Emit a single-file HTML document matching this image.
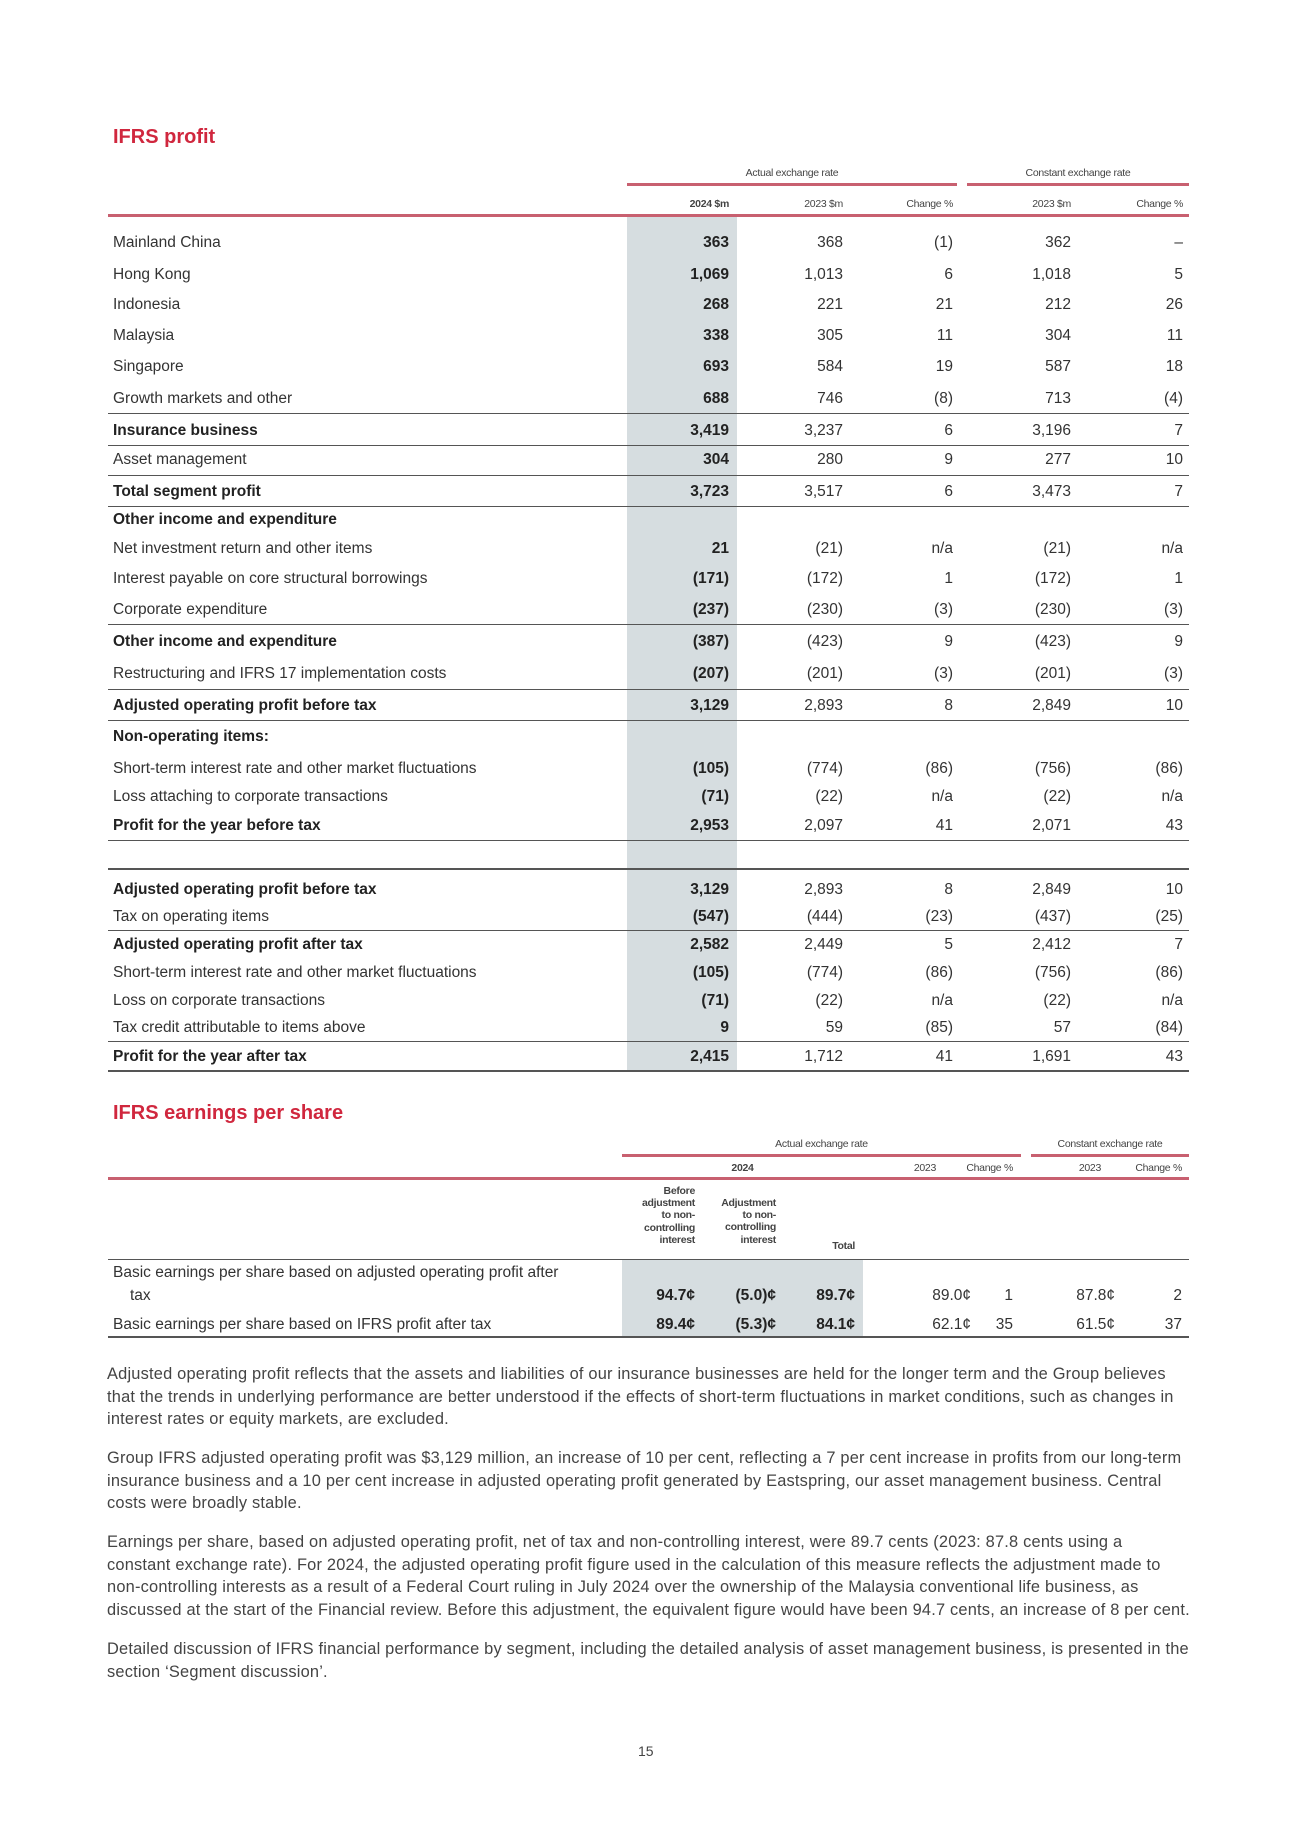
<!DOCTYPE html>
<html><head><meta charset="utf-8"><style>
body{margin:0;background:#fff;}
#p{position:relative;width:1300px;height:1839px;background:#fff;font-family:"Liberation Sans",sans-serif;color:#333;overflow:hidden}
.a{position:absolute;white-space:nowrap}
.h{color:#d0273e;font-weight:bold;font-size:20px}
.r{position:absolute;left:0;width:1300px;height:20px;line-height:20px;font-size:15.5px}
.r span{position:absolute;white-space:nowrap}
.l{left:113px}
.r .c1{right:571px;font-weight:bold;color:#222}
.r .c2{right:457px}.r .c3{right:347px}.r .c4{right:229px}.r .c5{right:117px}
.b{font-weight:bold;color:#222}
.ln{position:absolute;height:1px;background:#555}
.rd{position:absolute;height:3px;background:#c86070}
.sm{font-size:10.5px;color:#444;letter-spacing:-0.3px}
.pp{position:absolute;left:107px;font-size:16.4px;line-height:22.7px;color:#444;white-space:nowrap;letter-spacing:0.2px}
</style></head><body><div id="p">
<div class="a h" style="left:113px;top:126px">IFRS profit</div>
<div style="position:absolute;left:627px;top:217px;width:110px;height:855px;background:#d6dde0"></div>
<div class="a sm" style="left:627px;width:330px;text-align:center;top:167px">Actual exchange rate</div>
<div class="a sm" style="left:967px;width:222px;text-align:center;top:167px">Constant exchange rate</div>
<div class="rd" style="left:627px;width:330px;top:183px"></div>
<div class="rd" style="left:967px;width:222px;top:183px"></div>
<div class="a sm b" style="right:571px;top:198px">2024 $m</div>
<div class="a sm" style="right:457px;top:198px">2023 $m</div>
<div class="a sm" style="right:347px;top:198px">Change %</div>
<div class="a sm" style="right:229px;top:198px">2023 $m</div>
<div class="a sm" style="right:117px;top:198px">Change %</div>
<div class="rd" style="left:108px;width:1081px;top:214px"></div>

<div class="r" style="top:233px"><span class="l">Mainland China</span><span class="c1">363</span><span class="c2">368</span><span class="c3">(1)</span><span class="c4">362</span><span class="c5">–</span></div>
<div class="r" style="top:265px"><span class="l">Hong Kong</span><span class="c1">1,069</span><span class="c2">1,013</span><span class="c3">6</span><span class="c4">1,018</span><span class="c5">5</span></div>
<div class="r" style="top:295px"><span class="l">Indonesia</span><span class="c1">268</span><span class="c2">221</span><span class="c3">21</span><span class="c4">212</span><span class="c5">26</span></div>
<div class="r" style="top:326px"><span class="l">Malaysia</span><span class="c1">338</span><span class="c2">305</span><span class="c3">11</span><span class="c4">304</span><span class="c5">11</span></div>
<div class="r" style="top:357px"><span class="l">Singapore</span><span class="c1">693</span><span class="c2">584</span><span class="c3">19</span><span class="c4">587</span><span class="c5">18</span></div>
<div class="r" style="top:389px"><span class="l">Growth markets and other</span><span class="c1">688</span><span class="c2">746</span><span class="c3">(8)</span><span class="c4">713</span><span class="c5">(4)</span></div>
<div class="ln" style="left:108px;width:1081px;top:413px"></div>
<div class="r" style="top:421px"><span class="l b">Insurance business</span><span class="c1">3,419</span><span class="c2">3,237</span><span class="c3">6</span><span class="c4">3,196</span><span class="c5">7</span></div>
<div class="ln" style="left:108px;width:1081px;top:445px"></div>
<div class="r" style="top:450px"><span class="l">Asset management</span><span class="c1">304</span><span class="c2">280</span><span class="c3">9</span><span class="c4">277</span><span class="c5">10</span></div>
<div class="ln" style="left:108px;width:1081px;top:475px"></div>
<div class="r" style="top:482px"><span class="l b">Total segment profit</span><span class="c1">3,723</span><span class="c2">3,517</span><span class="c3">6</span><span class="c4">3,473</span><span class="c5">7</span></div>
<div class="ln" style="left:108px;width:1081px;top:506px"></div>
<div class="r" style="top:510px"><span class="l b">Other income and expenditure</span></div>
<div class="r" style="top:539px"><span class="l">Net investment return and other items</span><span class="c1">21</span><span class="c2">(21)</span><span class="c3">n/a</span><span class="c4">(21)</span><span class="c5">n/a</span></div>
<div class="r" style="top:569px"><span class="l">Interest payable on core structural borrowings</span><span class="c1">(171)</span><span class="c2">(172)</span><span class="c3">1</span><span class="c4">(172)</span><span class="c5">1</span></div>
<div class="r" style="top:600px"><span class="l">Corporate expenditure</span><span class="c1">(237)</span><span class="c2">(230)</span><span class="c3">(3)</span><span class="c4">(230)</span><span class="c5">(3)</span></div>
<div class="ln" style="left:108px;width:1081px;top:624px"></div>
<div class="r" style="top:632px"><span class="l b">Other income and expenditure</span><span class="c1">(387)</span><span class="c2">(423)</span><span class="c3">9</span><span class="c4">(423)</span><span class="c5">9</span></div>
<div class="r" style="top:664px"><span class="l">Restructuring and IFRS 17 implementation costs</span><span class="c1">(207)</span><span class="c2">(201)</span><span class="c3">(3)</span><span class="c4">(201)</span><span class="c5">(3)</span></div>
<div class="ln" style="left:108px;width:1081px;top:689px"></div>
<div class="r" style="top:696px"><span class="l b">Adjusted operating profit before tax</span><span class="c1">3,129</span><span class="c2">2,893</span><span class="c3">8</span><span class="c4">2,849</span><span class="c5">10</span></div>
<div class="ln" style="left:108px;width:1081px;top:720px"></div>
<div class="r" style="top:727px"><span class="l b">Non-operating items:</span></div>
<div class="r" style="top:759px"><span class="l">Short-term interest rate and other market fluctuations</span><span class="c1">(105)</span><span class="c2">(774)</span><span class="c3">(86)</span><span class="c4">(756)</span><span class="c5">(86)</span></div>
<div class="r" style="top:787px"><span class="l">Loss attaching to corporate transactions</span><span class="c1">(71)</span><span class="c2">(22)</span><span class="c3">n/a</span><span class="c4">(22)</span><span class="c5">n/a</span></div>
<div class="r" style="top:816px"><span class="l b">Profit for the year before tax</span><span class="c1">2,953</span><span class="c2">2,097</span><span class="c3">41</span><span class="c4">2,071</span><span class="c5">43</span></div>
<div class="ln" style="left:108px;width:1081px;top:840px"></div>
<div class="ln" style="left:108px;width:1081px;top:868px;height:2px"></div>
<div class="r" style="top:880px"><span class="l b">Adjusted operating profit before tax</span><span class="c1">3,129</span><span class="c2">2,893</span><span class="c3">8</span><span class="c4">2,849</span><span class="c5">10</span></div>
<div class="r" style="top:907px"><span class="l">Tax on operating items</span><span class="c1">(547)</span><span class="c2">(444)</span><span class="c3">(23)</span><span class="c4">(437)</span><span class="c5">(25)</span></div>
<div class="ln" style="left:108px;width:1081px;top:930px"></div>
<div class="r" style="top:935px"><span class="l b">Adjusted operating profit after tax</span><span class="c1">2,582</span><span class="c2">2,449</span><span class="c3">5</span><span class="c4">2,412</span><span class="c5">7</span></div>
<div class="r" style="top:963px"><span class="l">Short-term interest rate and other market fluctuations</span><span class="c1">(105)</span><span class="c2">(774)</span><span class="c3">(86)</span><span class="c4">(756)</span><span class="c5">(86)</span></div>
<div class="r" style="top:991px"><span class="l">Loss on corporate transactions</span><span class="c1">(71)</span><span class="c2">(22)</span><span class="c3">n/a</span><span class="c4">(22)</span><span class="c5">n/a</span></div>
<div class="r" style="top:1018px"><span class="l">Tax credit attributable to items above</span><span class="c1">9</span><span class="c2">59</span><span class="c3">(85)</span><span class="c4">57</span><span class="c5">(84)</span></div>
<div class="ln" style="left:108px;width:1081px;top:1041px"></div>
<div class="r" style="top:1047px"><span class="l b">Profit for the year after tax</span><span class="c1">2,415</span><span class="c2">1,712</span><span class="c3">41</span><span class="c4">1,691</span><span class="c5">43</span></div>
<div class="ln" style="left:108px;width:1081px;top:1070px;height:2px"></div>

<div class="a h" style="left:113px;top:1102px">IFRS earnings per share</div>
<div style="position:absolute;left:622px;top:1260px;width:241px;height:77px;background:#d6dde0"></div>
<div class="a sm" style="left:622px;width:399px;text-align:center;top:1138px">Actual exchange rate</div>
<div class="a sm" style="left:1031px;width:158px;text-align:center;top:1138px">Constant exchange rate</div>
<div class="rd" style="left:622px;width:399px;top:1154px"></div>
<div class="rd" style="left:1031px;width:158px;top:1154px"></div>
<div class="a sm b" style="left:622px;width:241px;text-align:center;top:1162px">2024</div>
<div class="a sm" style="right:364px;top:1162px">2023</div>
<div class="a sm" style="right:287px;top:1162px">Change %</div>
<div class="a sm" style="right:199px;top:1162px">2023</div>
<div class="a sm" style="right:118px;top:1162px">Change %</div>
<div class="rd" style="left:108px;width:1081px;top:1177px"></div>
<div class="a sm b" style="right:605px;top:1185px;text-align:right;line-height:12.2px;font-size:10.5px">Before<br>adjustment<br>to non-<br>controlling<br>interest</div>
<div class="a sm b" style="right:524px;top:1197px;text-align:right;line-height:12.2px;font-size:10.5px">Adjustment<br>to non-<br>controlling<br>interest</div>
<div class="a sm b" style="right:445px;top:1240px;font-size:10.5px">Total</div>
<div class="ln" style="left:108px;width:1081px;top:1259px"></div>
<div class="r" style="top:1263px"><span class="l">Basic earnings per share based on adjusted operating profit after</span></div>
<div class="r" style="top:1286px"><span style="left:130px">tax</span><span class="b" style="right:605px">94.7¢</span><span class="b" style="right:524px">(5.0)¢</span><span class="b" style="right:445px">89.7¢</span><span style="right:329px">89.0¢</span><span style="right:287px">1</span><span style="right:185px">87.8¢</span><span style="right:118px">2</span></div>
<div class="r" style="top:1315px"><span class="l">Basic earnings per share based on IFRS profit after tax</span><span class="b" style="right:605px">89.4¢</span><span class="b" style="right:524px">(5.3)¢</span><span class="b" style="right:445px">84.1¢</span><span style="right:329px">62.1¢</span><span style="right:287px">35</span><span style="right:185px">61.5¢</span><span style="right:118px">37</span></div>
<div class="ln" style="left:108px;width:1081px;top:1336px;height:2px"></div>

<div class="pp" style="top:1363px">Adjusted operating profit reflects that the assets and liabilities of our insurance businesses are held for the longer term and the Group believes<br>that the trends in underlying performance are better understood if the effects of short-term fluctuations in market conditions, such as changes in<br>interest rates or equity markets, are excluded.</div>
<div class="pp" style="top:1447px">Group IFRS adjusted operating profit was $3,129 million, an increase of 10 per cent, reflecting a 7 per cent increase in profits from our long-term<br>insurance business and a 10 per cent increase in adjusted operating profit generated by Eastspring, our asset management business. Central<br>costs were broadly stable.</div>
<div class="pp" style="top:1531px">Earnings per share, based on adjusted operating profit, net of tax and non-controlling interest, were 89.7 cents (2023: 87.8 cents using a<br>constant exchange rate). For 2024, the adjusted operating profit figure used in the calculation of this measure reflects the adjustment made to<br>non-controlling interests as a result of a Federal Court ruling in July 2024 over the ownership of the Malaysia conventional life business, as<br>discussed at the start of the Financial review. Before this adjustment, the equivalent figure would have been 94.7 cents, an increase of 8 per cent.</div>
<div class="pp" style="top:1638px">Detailed discussion of IFRS financial performance by segment, including the detailed analysis of asset management business, is presented in the<br>section ‘Segment discussion’.</div>
<div class="a" style="left:638px;top:1743px;font-size:14px;color:#444">15</div>
</div></body></html>
